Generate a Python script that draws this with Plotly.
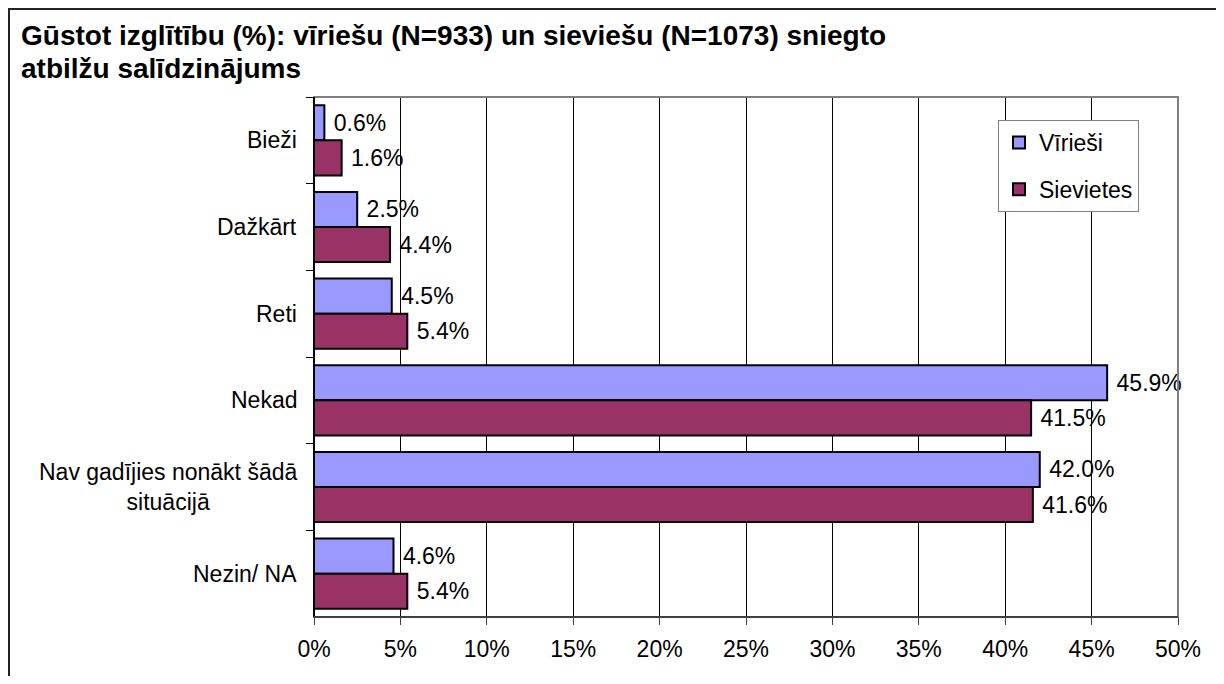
import plotly.graph_objects as go

categories = ["Bieži", "Dažkārt", "Reti", "Nekad", "Nav gadījies nonākt šādā situācijā", "Nezin/ NA"]
category_labels = ["Bieži", "Dažkārt", "Reti", "Nekad", "Nav gadījies nonākt šādā<br>situācijā", "Nezin/ NA"]
men = [0.6, 2.5, 4.5, 45.9, 42.0, 4.6]
women = [1.6, 4.4, 5.4, 41.5, 41.6, 5.4]
series_names = ["Vīrieši", "Sievietes"]
x_ticks = [0, 5, 10, 15, 20, 25, 30, 35, 40, 45, 50]
title_lines = ["Gūstot izglītību (%): vīriešu (N=933) un sieviešu (N=1073) sniegto",
               "atbilžu salīdzinājums"]

# page has an 8px body margin; work in figure coordinates (page - 8)
OFF = 8
W, H = 1224 - 2 * OFF, 684 - 2 * OFF
L, T = 314 - OFF, 97 - OFF
pw, ph = 864, 520
R, B = W - L - pw, H - T - ph

def px_x(p):  # page x -> paper
    return (p - OFF - L) / pw

def px_y(p):  # page y -> paper
    return (T + ph - (p - OFF)) / ph

FONT = "Liberation Sans, Arial, sans-serif"
NBSP = "\u00a0"

fig = go.Figure()
for name, vals, col, grp in [(series_names[0], men, "#9999FF", "a"),
                             (series_names[1], women, "#993366", "b")]:
    fig.add_trace(go.Bar(
        y=categories, x=vals, name=name, orientation="h",
        marker=dict(color=col, line=dict(color="black", width=2)),
        text=[NBSP + f"{v:.1f}%" for v in vals], textposition="outside",
        textfont=dict(size=23, color="black", family=FONT),
        cliponaxis=False, legendgroup=grp,
    ))

annotations = []
for c, lab in zip(categories, category_labels):
    annotations.append(dict(
        x=0, xref="paper", y=c, yref="y", text=lab, showarrow=False,
        xanchor="right", yanchor="middle", align="center", xshift=-15,
        font=dict(size=23, color="black", family=FONT)))
for line, yc in zip(title_lines, [36, 69]):
    annotations.append(dict(
        x=px_x(19), xref="paper", y=px_y(yc), yref="paper", text="<b>" + line + "</b>",
        showarrow=False, xanchor="left", yanchor="middle",
        font=dict(size=28, color="black", family=FONT)))

shapes = [
    dict(type="rect", xref="paper", yref="paper", x0=0, x1=1, y0=0, y1=1,
         line=dict(color="#808080", width=2), layer="above"),
    dict(type="line", xref="paper", yref="paper", x0=0, x1=0, y0=0, y1=1,
         line=dict(color="black", width=2), layer="above"),
    dict(type="line", xref="paper", yref="paper", x0=0, x1=1, y0=0, y1=0,
         line=dict(color="#404040", width=2), layer="above"),
    dict(type="rect", xref="paper", yref="paper", x0=px_x(9), x1=px_x(1300),
         y0=px_y(760), y1=px_y(9), line=dict(color="#222222", width=2), layer="above"),
]

fig.update_layout(
    width=W, height=H,
    margin=dict(l=L, r=R, t=T, b=B),
    paper_bgcolor="white", plot_bgcolor="white",
    barmode="group", bargap=0.19, bargroupgap=0,
    font=dict(family=FONT, size=23, color="black"),
    showlegend=True,
    legend=dict(x=px_x(998), y=px_y(120), xanchor="left", yanchor="top",
                bordercolor="#808080", borderwidth=1, bgcolor="white",
                traceorder="grouped", tracegroupgap=14,
                font=dict(size=23, family=FONT, color="black"),
                itemwidth=30),
    xaxis=dict(range=[0, 50], tickvals=x_ticks, ticktext=[f"{t}%" for t in x_ticks],
               showgrid=True, gridcolor="black", gridwidth=1,
               ticks="outside", ticklen=7, tickcolor="#404040",
               ticklabelstandoff=4,
               tickfont=dict(size=23, family=FONT), zeroline=False,
               showline=False, fixedrange=True),
    yaxis=dict(categoryorder="array", categoryarray=categories, autorange="reversed",
               showticklabels=False, ticks="outside", ticklen=7, tickcolor="black",
               tickson="boundaries", showgrid=False, zeroline=False, showline=False),
    annotations=annotations, shapes=shapes,
)

fig.write_html("out.html")
